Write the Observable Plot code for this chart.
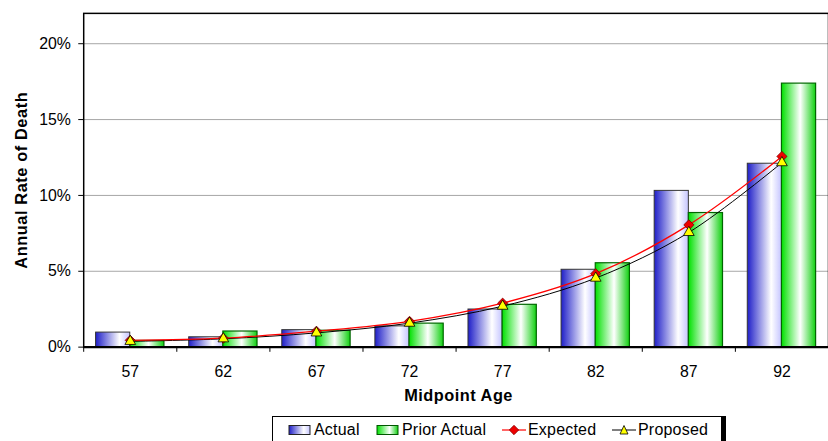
<!DOCTYPE html>
<html>
<head>
<meta charset="utf-8">
<script src="https://cdn.jsdelivr.net/npm/d3@7"></script>
<script src="https://cdn.jsdelivr.net/npm/@observablehq/plot@0.6"></script>
<style>
  html, body { margin: 0; padding: 0; background: #fff; overflow: hidden; width: 828px; height: 441px; }
  #chart svg { display: block; font-family: "Liberation Sans", Arial, sans-serif; }
  #legend {
    position: absolute; left: 272px; top: 416px; width: 450px; height: 30px; box-sizing: border-box;
    border: 1px solid #000; box-shadow: 4px 0 0 #000;
    font-family: "Liberation Sans", Arial, sans-serif; font-size: 16px; color: #000;
  }
  #legend .item { position: absolute; top: 4px; display: flex; align-items: center; white-space: nowrap; letter-spacing: 0.2px; }
  #legend svg { display: block; margin-right: 2px; }
</style>
</head>
<body>
<div id="chart"></div>
<div id="legend">
  <div class="item" style="left:15px"><svg width="24" height="14"><defs><linearGradient id="lgB" x1="0" x2="1"><stop offset="0" stop-color="#1e1ec8"/><stop offset="0.7" stop-color="#ffffff"/><stop offset="1" stop-color="#c4c4ff"/></linearGradient></defs><rect x="1" y="2.5" width="21" height="9" fill="url(#lgB)" stroke="#222"/></svg>Actual</div>
  <div class="item" style="left:103px"><svg width="24" height="14"><defs><linearGradient id="lgG" x1="0" x2="1"><stop offset="0" stop-color="#00e000"/><stop offset="0.6" stop-color="#ffffff"/><stop offset="1" stop-color="#10d010"/></linearGradient></defs><rect x="1" y="2.5" width="21" height="9" fill="url(#lgG)" stroke="#005500"/></svg>Prior Actual</div>
  <div class="item" style="left:229px"><svg width="24" height="14"><line x1="0" x2="24" y1="7" y2="7" stroke="red" stroke-width="1.2"/><path d="M12 2.3 L16.7 7 L12 11.7 L7.3 7 Z" fill="#ee0000" stroke="#880000" stroke-width="0.8"/></svg>Expected</div>
  <div class="item" style="left:339px"><svg width="24" height="14"><line x1="0" x2="24" y1="7" y2="7" stroke="black" stroke-width="1"/><path d="M12 2.5 L16 11 L8 11 Z" fill="#ffff00" stroke="#000" stroke-width="0.8"/></svg>Proposed</div>
</div>
<script>
const ages = ["57", "62", "67", "72", "77", "82", "87", "92"];
const actual = [0.0096, 0.0065, 0.0112, 0.0137, 0.0248, 0.0510, 0.1030, 0.1209];
const priorActual = [0.0041, 0.0103, 0.0108, 0.0155, 0.0279, 0.0553, 0.0884, 0.1737];
const expected = [0.0045, 0.0059, 0.0105, 0.0170, 0.0290, 0.0484, 0.0806, 0.1257];
const proposed = [0.0038, 0.0055, 0.0094, 0.0158, 0.0270, 0.0455, 0.0756, 0.1216];
const yTicks = [0, 0.05, 0.10, 0.15, 0.20];

const rows = ages.map((a, i) => ({age: a, actual: actual[i], prior: priorActual[i], expected: expected[i], proposed: proposed[i]}));

const W = 836, ML = 84;
const band = (W - ML) / ages.length;

const svg = Plot.plot({
  width: W,
  height: 412,
  marginTop: 13,
  marginLeft: ML,
  marginRight: 0,
  marginBottom: 62,
  style: {fontFamily: "'Liberation Sans', Arial, sans-serif", fontSize: "16px", color: "#000", background: "#fff"},
  x: {type: "band", domain: ages, padding: 0, tickSize: 0, tickPadding: 19, label: null},
  y: {domain: [0, 0.22], ticks: yTicks, tickFormat: d3.format(".0%"), tickSize: 5, tickPadding: 8, label: null},
  marks: [
    Plot.ruleY(yTicks.slice(1), {stroke: "#a6a6a6", strokeWidth: 1}),
    Plot.barY(rows, {x: "age", y: "actual", fill: "url(#gBlue)", stroke: "#333", strokeWidth: 1, insetLeft: 12.5, insetRight: band / 2}),
    Plot.barY(rows, {x: "age", y: "prior", fill: "url(#gGreen)", stroke: "#006600", strokeWidth: 1.2, insetLeft: band / 2, insetRight: 12.5}),
    Plot.line(rows, {x: "age", y: "proposed", stroke: "#000", strokeWidth: 1, curve: "catmull-rom"}),
    Plot.line(rows, {x: "age", y: "expected", stroke: "#ff0000", strokeWidth: 1.3, curve: "catmull-rom"}),
    Plot.dot(rows, {x: "age", y: "expected", symbol: d3.symbolDiamond2 || "diamond", r: 4.6, fill: "#ee0000", stroke: "#800000", strokeWidth: 0.8}),
    Plot.dot(rows, {x: "age", y: "proposed", symbol: "triangle", r: 4, fill: "#ffff00", stroke: "#000", strokeWidth: 0.8}),
    Plot.ruleX(ages, {x: d => d, dx: -band / 2, y1: 0, y2: -0.0034, stroke: "#000", strokeWidth: 1}),
    Plot.frame({stroke: "#000", strokeWidth: 1.5}),
    Plot.ruleY([0], {stroke: "#000", strokeWidth: 2.5})
  ]
});

const s = d3.select(svg);
s.selectAll("g[aria-label$='tick label'], g[aria-label$='axis']").attr("font-size", null).style("font-size", "16px");
s.selectAll("g[aria-label$='tick label'] text, g[aria-label$='axis'] text").style("font-size", "16px");

const defs = s.insert("defs", ":first-child");
const gb = defs.append("linearGradient").attr("id", "gBlue").attr("x1", 0).attr("x2", 1).attr("y1", 0).attr("y2", 0);
gb.append("stop").attr("offset", 0).attr("stop-color", "#1e1ec8");
gb.append("stop").attr("offset", 0.7).attr("stop-color", "#ffffff");
gb.append("stop").attr("offset", 1).attr("stop-color", "#c4c4ff");
const gg = defs.append("linearGradient").attr("id", "gGreen").attr("x1", 0).attr("x2", 1).attr("y1", 0).attr("y2", 0);
gg.append("stop").attr("offset", 0).attr("stop-color", "#00e000");
gg.append("stop").attr("offset", 0.55).attr("stop-color", "#ffffff");
gg.append("stop").attr("offset", 1).attr("stop-color", "#10d010");

// axis titles
s.append("text").attr("x", 27).attr("y", 182).attr("transform", "rotate(-90,27,182)")
  .attr("text-anchor", "middle").attr("font-weight", "bold").attr("fill", "#000")
  .style("font-size", "16.5px").style("letter-spacing", "0.6px").text("Annual Rate of Death");
s.append("text").attr("x", 463).attr("y", 405)
  .attr("text-anchor", "middle").attr("font-weight", "bold").attr("fill", "#000")
  .style("font-size", "16.5px").style("letter-spacing", "0.5px").text("Midpoint Age");

document.getElementById("chart").appendChild(svg);
</script>
</body>
</html>
